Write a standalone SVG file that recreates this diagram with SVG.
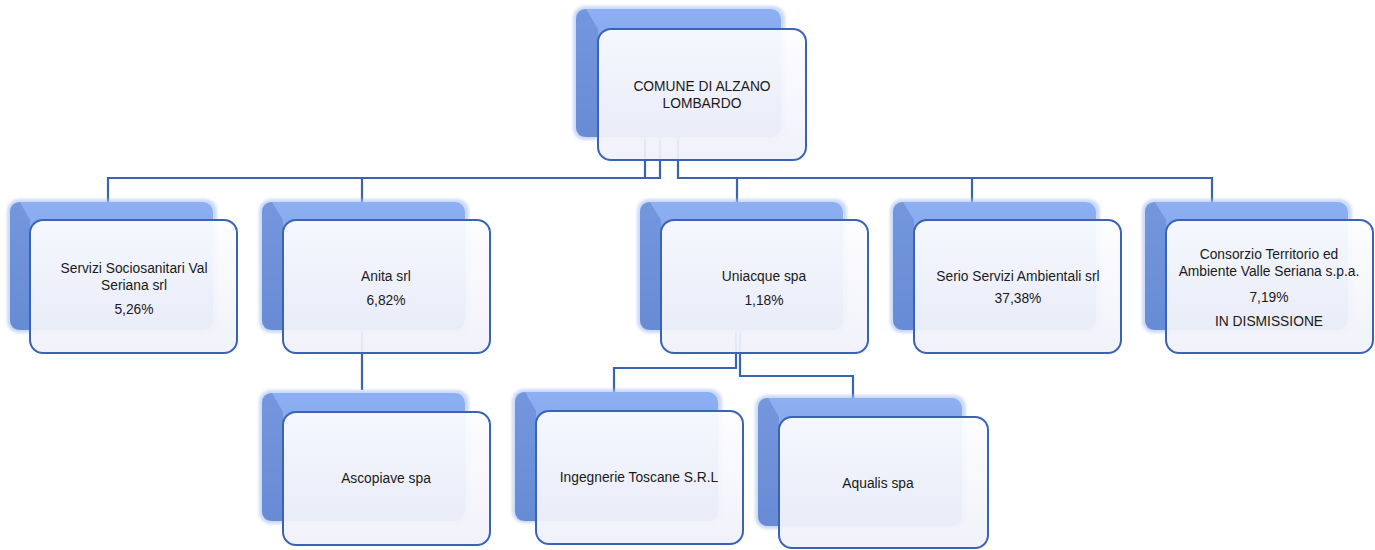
<svg xmlns="http://www.w3.org/2000/svg" width="1375" height="550" viewBox="0 0 1375 550">
<defs>
<linearGradient id="bk" x1="0" y1="0" x2="0" y2="1">
<stop offset="0" stop-color="#8db0f3"/>
<stop offset="1" stop-color="#7397e0"/>
</linearGradient>
<linearGradient id="fr" x1="0" y1="0" x2="0" y2="1">
<stop offset="0" stop-color="#fdfdff"/>
<stop offset="1" stop-color="#f0f1f9"/>
</linearGradient>
<filter id="glow" x="-10%" y="-10%" width="120%" height="120%">
<feGaussianBlur stdDeviation="1.5"/>
</filter>
</defs>
<style>
.back{fill:url(#bk);}
.bevel{fill:#5f82cc;opacity:0.55;}
.halo{fill:#a9c1f3;opacity:0.6;filter:url(#glow);}
.front{fill:url(#fr);fill-opacity:0.93;stroke:#3b63b3;stroke-width:2;}
.conn{fill:none;stroke:#3b63b3;stroke-width:2.2;}
text{font-family:"Liberation Sans",Arial,sans-serif;font-size:13.8px;fill:#1a1a1a;text-anchor:middle;}
</style>
<rect width="1375" height="550" fill="#ffffff"/>

<g id="connectors">
<polyline class="conn" points="645,137 645,178 108,178 108,205"/>
<polyline class="conn" points="660,137 660,178 645,178"/>
<line class="conn" x1="362" y1="178" x2="362" y2="205"/>
<polyline class="conn" points="678,137 678,178 1212,178 1212,205"/>
<line class="conn" x1="737" y1="178" x2="737" y2="205"/>
<line class="conn" x1="972" y1="178" x2="972" y2="205"/>
<polyline class="conn" points="362,330 362,390"/>
<polyline class="conn" points="736,330 736,368 614,368 614,393"/>
<polyline class="conn" points="740,330 740,376 853,376 853,398"/>
</g>

<g id="n-comune">
<rect class="halo" x="573" y="6" width="212" height="134" rx="12"/>
<rect class="back" x="576" y="9" width="205" height="128" rx="10"/>
<path class="bevel" d="M586,9 L598,29 L598,137 L586,137 Q576,137 576,127 L576,19 Q576,9 586,9 Z"/>
<rect class="front" x="598" y="29" width="208" height="131" rx="13"/>
<text x="702" y="91">COMUNE DI ALZANO</text>
<text x="702" y="108">LOMBARDO</text>
</g>

<g id="n-servizi">
<rect class="halo" x="7" y="199" width="210" height="134" rx="12"/>
<rect class="back" x="10" y="202" width="203" height="128" rx="10"/>
<path class="bevel" d="M20,202 L30,220 L30,330 L20,330 Q10,330 10,320 L10,212 Q10,202 20,202 Z"/>
<rect class="front" x="30" y="220" width="207" height="133" rx="13"/>
<text x="134" y="273">Servizi Sociosanitari Val</text>
<text x="134" y="290">Seriana srl</text>
<text x="134" y="314">5,26%</text>
</g>

<g id="n-anita">
<rect class="halo" x="259" y="199" width="210" height="134" rx="12"/>
<rect class="back" x="262" y="202" width="203" height="128" rx="10"/>
<path class="bevel" d="M272,202 L283,220 L283,330 L272,330 Q262,330 262,320 L262,212 Q262,202 272,202 Z"/>
<rect class="front" x="283" y="220" width="207" height="133" rx="13"/>
<text x="386" y="281">Anita srl</text>
<text x="386" y="305">6,82%</text>
</g>

<g id="n-ascopiave">
<rect class="halo" x="259" y="390" width="210" height="134" rx="12"/>
<rect class="back" x="262" y="393" width="203" height="128" rx="10"/>
<path class="bevel" d="M272,393 L283,412 L283,521 L272,521 Q262,521 262,511 L262,403 Q262,393 272,393 Z"/>
<rect class="front" x="283" y="412" width="207" height="133" rx="13"/>
<text x="386" y="483">Ascopiave spa</text>
</g>

<g id="n-uniacque">
<rect class="halo" x="637" y="199" width="210" height="134" rx="12"/>
<rect class="back" x="640" y="202" width="203" height="128" rx="10"/>
<path class="bevel" d="M650,202 L661,220 L661,330 L650,330 Q640,330 640,320 L640,212 Q640,202 650,202 Z"/>
<rect class="front" x="661" y="220" width="207" height="133" rx="13"/>
<text x="764" y="281">Uniacque spa</text>
<text x="764" y="305">1,18%</text>
</g>

<g id="n-serio">
<rect class="halo" x="890" y="199" width="210" height="134" rx="12"/>
<rect class="back" x="893" y="202" width="203" height="128" rx="10"/>
<path class="bevel" d="M903,202 L914,220 L914,330 L903,330 Q893,330 893,320 L893,212 Q893,202 903,202 Z"/>
<rect class="front" x="914" y="220" width="207" height="133" rx="13"/>
<text x="1018" y="281">Serio Servizi Ambientali srl</text>
<text x="1018" y="303">37,38%</text>
</g>

<g id="n-consorzio">
<rect class="halo" x="1142" y="199" width="210" height="134" rx="12"/>
<rect class="back" x="1145" y="202" width="203" height="128" rx="10"/>
<path class="bevel" d="M1155,202 L1166,220 L1166,330 L1155,330 Q1145,330 1145,320 L1145,212 Q1145,202 1155,202 Z"/>
<rect class="front" x="1166" y="220" width="207" height="133" rx="13"/>
<text x="1269" y="259">Consorzio Territorio ed</text>
<text x="1269" y="276">Ambiente Valle Seriana s.p.a.</text>
<text x="1269" y="302">7,19%</text>
<text x="1269" y="326">IN DISMISSIONE</text>
</g>

<g id="n-ingegnerie">
<rect class="halo" x="512" y="389" width="210" height="134" rx="12"/>
<rect class="back" x="515" y="392" width="203" height="129" rx="10"/>
<path class="bevel" d="M525,392 L536,411 L536,521 L525,521 Q515,521 515,511 L515,402 Q515,392 525,392 Z"/>
<rect class="front" x="536" y="411" width="207" height="133" rx="13"/>
<text x="639" y="482">Ingegnerie Toscane S.R.L</text>
</g>

<g id="n-aqualis">
<rect class="halo" x="755" y="395" width="211" height="134" rx="12"/>
<rect class="back" x="758" y="398" width="204" height="128" rx="10"/>
<path class="bevel" d="M768,398 L779,417 L779,526 L768,526 Q758,526 758,516 L758,408 Q758,398 768,398 Z"/>
<rect class="front" x="779" y="417" width="209" height="131" rx="13"/>
<text x="878" y="488">Aqualis spa</text>
</g>
</svg>
